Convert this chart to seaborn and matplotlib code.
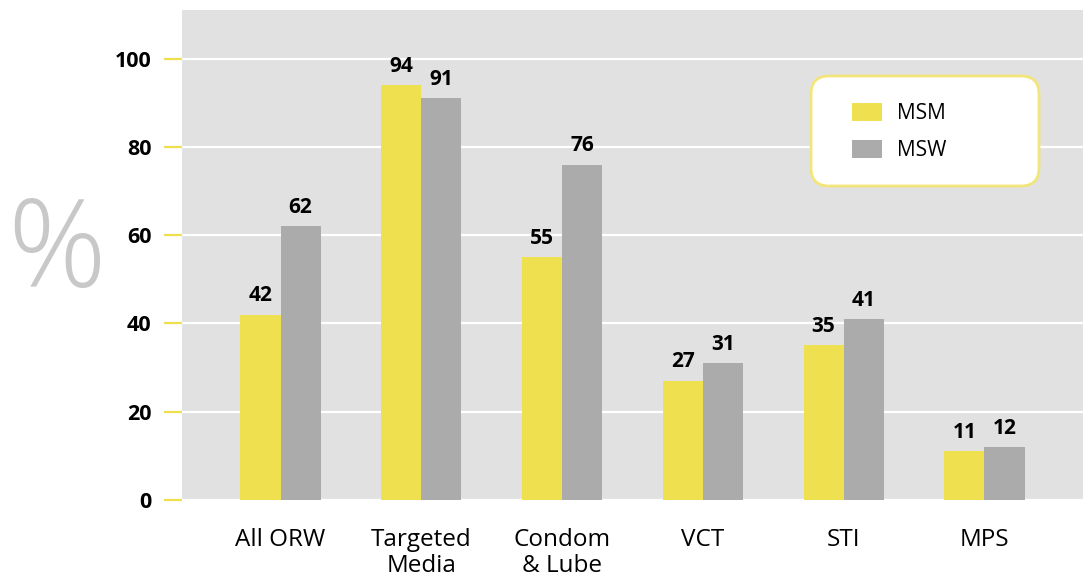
import pandas as pd
import seaborn as sns
from matplotlib import pyplot as plt
from matplotlib.patches import FancyBboxPatch

categories = ['All ORW', 'Targeted\nMedia', 'Condom\n& Lube', 'VCT', 'STI', 'MPS']
msm = [42, 94, 55, 27, 35, 11]
msw = [62, 91, 76, 31, 41, 12]
groups = ['MSM', 'MSW']
yticks = [0, 20, 40, 60, 80, 100]

yellow = '#EFE04F'
grey = '#ABABAB'

df = pd.DataFrame({
    'cat': categories * 2,
    'val': msm + msw,
    'grp': ['MSM'] * len(msm) + ['MSW'] * len(msw),
})

sns.set_style('white')
plt.rcParams['font.family'] = ['Open Sans', 'DejaVu Sans']
plt.rcParams['text.color'] = 'black'
plt.rcParams['xtick.color'] = 'black'
plt.rcParams['ytick.color'] = 'black'

fig = plt.figure(figsize=(10.83, 5.82), dpi=100)
ax = fig.add_axes([182 / 1083, 82 / 582, 901 / 1083, 490 / 582])
ax.set_facecolor('#E1E1E1')

sns.barplot(data=df, x='cat', y='val', hue='grp', palette={'MSM': yellow, 'MSW': grey},
            width=0.57, gap=0, saturation=1, linewidth=0, ax=ax, zorder=3)

ax.set_xlim(-0.7, 5.7)
ax.set_ylim(0, 111)
ax.set_yticks(yticks)
ax.yaxis.grid(True, color='white', linewidth=1.6, zorder=0)
ax.set_axisbelow(True)
for s in ax.spines.values():
    s.set_visible(False)

ax.tick_params(axis='y', length=13, width=1.6, color=yellow, pad=9, left=True, labelcolor='black')
ax.tick_params(axis='x', length=0, pad=20, labelcolor='black')
for lab in ax.get_yticklabels():
    lab.set_fontweight('bold')
    lab.set_fontsize(15.5)
for lab in ax.get_xticklabels():
    lab.set_fontsize(17.5)
    lab.set_linespacing(1.12)
ax.set_xlabel('')
ax.set_ylabel('')

for cont in ax.containers:
    ax.bar_label(cont, fmt='%d', padding=6, fontsize=15, fontweight='bold', color='black')

fig.text(57 / 1083, 1 - 255 / 582, '%', fontsize=88, color='#C8C8C8', fontweight='light',
         ha='center', va='center')

# legend box drawn by hand, legend itself has no frame
box = FancyBboxPatch(((811 - 182) / 901, (500 - 186) / 490), 228 / 901, 110 / 490,
                     boxstyle='round,pad=0,rounding_size=0.02', transform=ax.transAxes,
                     facecolor='white', edgecolor='#F2E57A', linewidth=2, zorder=5,
                     mutation_aspect=901 / 490)
ax.add_patch(box)
leg = ax.legend(loc='upper left', bbox_to_anchor=((852 - 182) / 901, (500 - 103) / 490),
                frameon=False, fontsize=15, handlelength=1.45, handleheight=0.95,
                borderpad=0, labelspacing=0.75, handletextpad=0.7, borderaxespad=0)
leg.set_zorder(6)

plt.savefig('out.png', dpi=100)
